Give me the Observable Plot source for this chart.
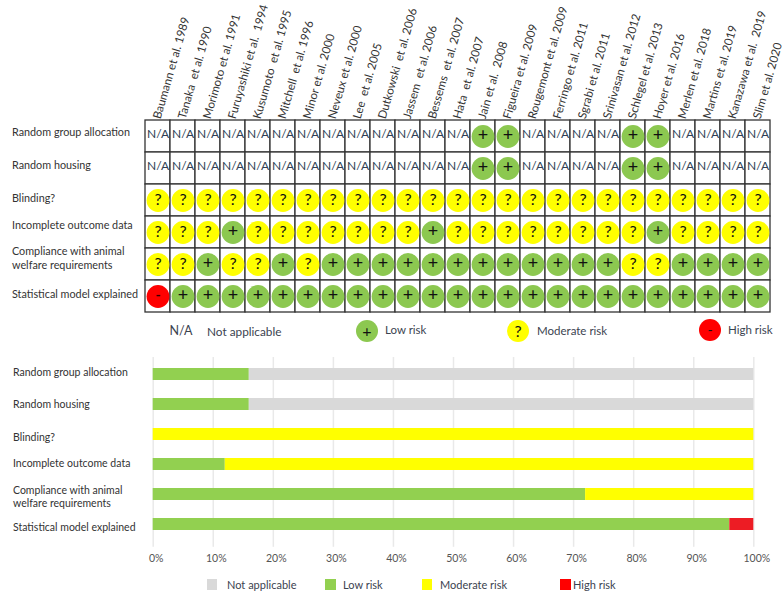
<!DOCTYPE html>
<html><head><meta charset="utf-8">
<script src="https://cdn.jsdelivr.net/npm/d3@7"></script>
<script src="https://cdn.jsdelivr.net/npm/@observablehq/plot@0.6"></script>
<style>
html,body{margin:0;padding:0;background:#fff;}
#root{position:relative;width:784px;height:597px;overflow:hidden;font-family:Lato,sans-serif;}
#root svg{display:block;overflow:visible;}
.lg{position:absolute;white-space:nowrap;line-height:1;color:#3b4350;}
.dot{position:absolute;border-radius:50%;text-align:center;color:#111;}
.sq{position:absolute;}
</style></head><body><div id="root"></div>
<script>
const studies = ["Baumann et al. 1989","Tanaka  et al. 1990","Morimoto et al. 1991","Furuyashiki et al.  1994","Kusumoto  et al. 1995","Mitchell  et al. 1996","Minor et al. 2000","Neveux et al. 2000","Lee  et al. 2005","Dutkowski  et al. 2006","Jassem  et al. 2006","Bessems  et al. 2007","Hata  et al. 2007","Jain et al.  2008","Figueira et al. 2009","Rougemont et al. 2009","Ferringo et al. 2011","Sgrabi et al. 2011","Srinivasan et al. 2012","Schlegel et al. 2013","Hoyer et al. 2016","Merlen et al. 2018","Martins et al. 2019","Kanazawa et al.  2019","Slim et al. 2020"];
const domains = ["Random group allocation","Random housing","Blinding?","Incomplete outcome data","Compliance with animal\nwelfare requirements","Statistical model explained"];
const ratingGroup      = "nnnnnnnnnnnnn++nnnn++nnnn";
const ratingHousing    = "nnnnnnnnnnnnn++nnnn++nnnn";
const ratingBlinding   = "?????????????????????????";
const ratingIncomplete = "???+???????+????????+????";
const ratingCompliance = "??+??+?++++++++++++??++++";
const ratingModel      = "-++++++++++++++++++++++++";
const ratingRows = [ratingGroup,ratingHousing,ratingBlinding,ratingIncomplete,ratingCompliance,ratingModel];

const pctNotApplicable = [84,84,0,0,0,0];
const pctLow           = [16,16,0,12,72,96];
const pctModerate      = [0,0,100,88,28,0];
const pctHigh          = [0,0,0,0,0,4];
const seriesNames = ["Low risk","Moderate risk","High risk","Not applicable"];
const percentTicks = [0,10,20,30,40,50,60,70,80,90,100];

const cells = ratingRows.flatMap((row,r)=>[...row].map((v,c)=>({study:studies[c],domain:domains[r],v})));
const circles = cells.filter(d=>d.v!=="n");
const notAppl = cells.filter(d=>d.v==="n");
const font="Lato, sans-serif";

const topDy=[-5,-4,-2.5,-8,-7,-3];
const topPlot = Plot.plot({
  width:784,height:345,marginLeft:142.3,marginRight:11.3,marginTop:119.5,marginBottom:33.5,
  style:{background:"transparent",fontFamily:font,overflow:"visible"},
  x:{type:"band",domain:studies,padding:0,axis:null},
  y:{type:"band",domain:domains,padding:0,axis:null},
  color:{type:"ordinal",domain:["+","?","-"],range:["#8cc850","#ffff00","#ff0000"]},
  marks:[
    Plot.cell(cells,{x:"study",y:"domain",fill:"white",stroke:"#333",strokeWidth:1.3}),
    Plot.dot(circles,{x:"study",y:"domain",r:11.4,fill:"v"}),
    Plot.text(circles.filter(d=>d.v==="+"),{x:"study",y:"domain",text:"v",fontSize:18,fill:"#111",dy:-1}),
    Plot.text(circles.filter(d=>d.v==="?"),{x:"study",y:"domain",text:"v",fontSize:16,fill:"#111",dy:-1}),
    Plot.text(circles.filter(d=>d.v==="-"),{x:"study",y:"domain",text:"v",fontSize:14,fontWeight:"bold",fill:"#300",dy:-1}),
    Plot.text(notAppl,{x:"study",y:"domain",text:()=>"N/A",fontSize:12,fill:"#2f3f55",dy:-2}),
    Plot.text(studies,{x:d=>d,y:()=>domains[0],text:d=>d,rotate:-74,textAnchor:"start",lineAnchor:"middle",dx:-1,dy:-18,fontSize:11.6,fill:"#333"}),
    ...domains.map((d,i)=>Plot.text([d],{y:d=>d,text:d=>d,frameAnchor:"left",textAnchor:"start",dx:-130.8,dy:topDy[i],fontSize:10.8,fill:"#333",lineHeight:1.28}))
  ]
});

const stack = domains.flatMap((d,i)=>[
  {domain:d,series:seriesNames[0],value:pctLow[i]},
  {domain:d,series:seriesNames[1],value:pctModerate[i]},
  {domain:d,series:seriesNames[2],value:pctHigh[i]},
  {domain:d,series:seriesNames[3],value:pctNotApplicable[i]}
]);
const bottomDy=[-2.5,-0.9,2,-1.7,1.5,2.5];
const bottomPlot = Plot.plot({
  width:784,height:252,marginLeft:152.7,marginRight:30.7,marginTop:13,marginBottom:56.6,
  style:{background:"transparent",fontFamily:font,overflow:"visible"},
  x:{domain:[0,100],axis:null},
  y:{type:"band",domain:domains,paddingInner:0.6,paddingOuter:0.3,axis:null},
  color:{type:"ordinal",domain:seriesNames,range:["#92d050","#ffff00","#ed1c24","#d9d9d9"]},
  marks:[
    Plot.ruleX(percentTicks,{x:d=>d,stroke:"#e9e9e9",strokeWidth:1.5,insetBottom:-6.4,insetTop:-1}),
    Plot.barX(stack,{x:"value",y:"domain",fill:"series"}),
    Plot.axisX({ticks:percentTicks,tickFormat:d=>d+"%",tickSize:0,tickPadding:13.5,dx:3,fontSize:10.5,fill:"#555",label:null}),
    ...domains.map((d,i)=>Plot.text([d],{y:d=>d,text:d=>d,frameAnchor:"left",textAnchor:"start",dx:-140.2,dy:bottomDy[i],fontSize:10.5,fill:"#333",lineHeight:1.3}))
  ]
});
const root=document.getElementById("root");
root.append(topPlot,bottomPlot);

function lg(txt,x,cy,fs){const e=document.createElement("div");e.className="lg";e.textContent=txt;e.style.cssText=`left:${x}px;top:${cy-fs/2}px;font-size:${fs}px`;root.append(e);}
function dot(sym,cx,cy,col,fs){const e=document.createElement("div");e.className="dot";e.textContent=sym;e.style.cssText=`left:${cx-11.4}px;top:${cy-11.4}px;width:22.8px;height:22.8px;line-height:21px;font-size:${fs}px;background:${col}`;root.append(e);}
function sq(x,y,w,h,col){const e=document.createElement("div");e.className="sq";e.style.cssText=`left:${x}px;top:${y}px;width:${w}px;height:${h}px;background:${col}`;root.append(e);}
lg("N/A",169.5,331,12.5);lg("Not applicable",207,332,11.8);
dot("+",367,331,"#8cc850",16);lg("Low risk",385,330,11.5);
dot("?",518,331,"#ffff00",16);lg("Moderate risk",537,331,11.5);
dot("-",710,330,"#ff0000",14);lg("High risk",728,330,11.5);
sq(207,579,10,11,"#d9d9d9");lg("Not applicable",227,584,11);
sq(325,579,11,11,"#92d050");lg("Low risk",343,584,11);
sq(421.7,579,10,11,"#ffff00");lg("Moderate risk",440,584,11);
sq(560,579,11,11,"#ff0000");lg("High risk",573,584,11);
</script></body></html>
